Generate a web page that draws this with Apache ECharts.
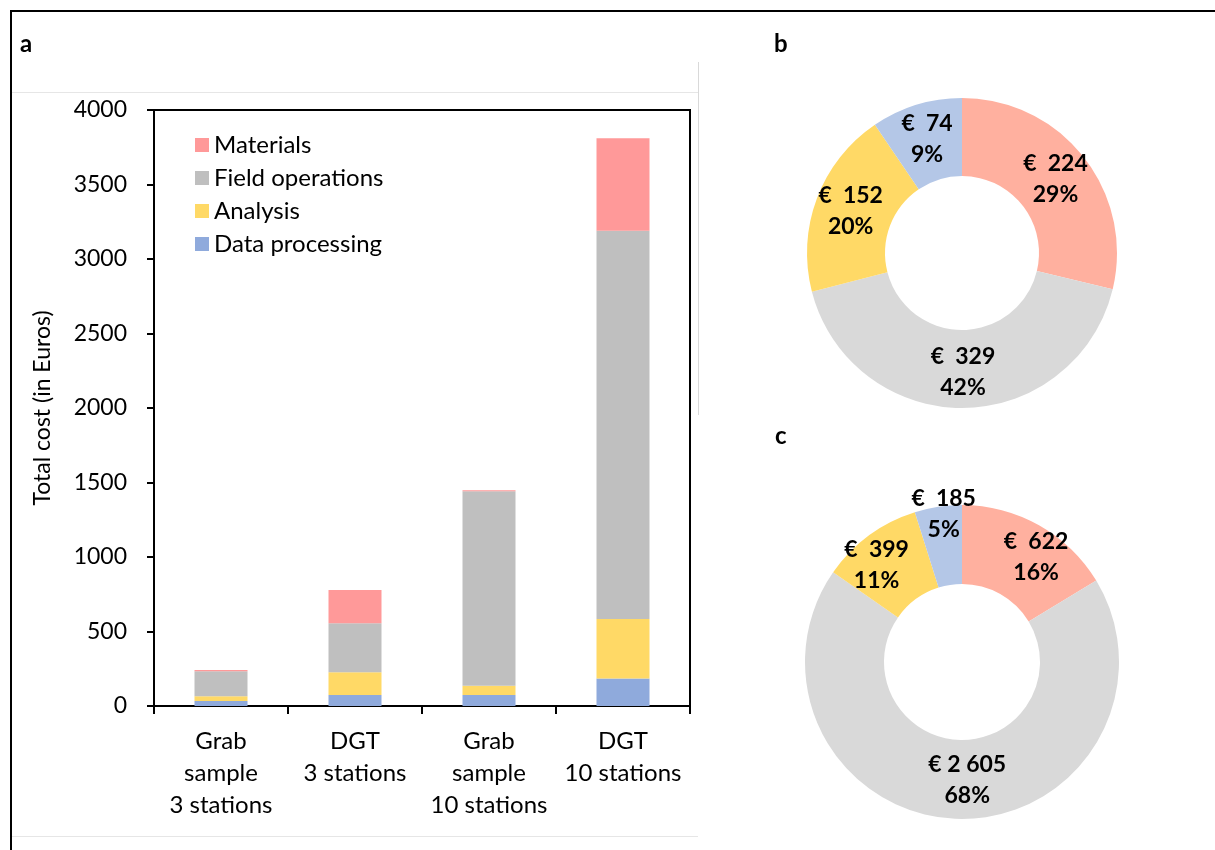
<!DOCTYPE html>
<html>
<head>
<meta charset="utf-8">
<script src="https://cdn.jsdelivr.net/npm/echarts@6/dist/echarts.min.js"></script>
<style>
html,body{margin:0;padding:0;background:#fff;}
#chart{width:1215px;height:850px;}
</style>
</head>
<body>
<div id="chart"></div>
<script>
// ---- data ----
const categories = ['Grab\nsample\n3 stations', 'DGT\n3 stations', 'Grab\nsample\n10 stations', 'DGT\n10 stations'];
const seriesNames = ['Materials', 'Field operations', 'Analysis', 'Data processing'];
const materials = [8, 224, 7, 622];
const fieldOperations = [168, 329, 1305, 2605];
const analysis = [32, 152, 62, 399];
const dataProcessing = [33, 74, 74, 185];
const yTicks = [0, 500, 1000, 1500, 2000, 2500, 3000, 3500, 4000];
const pieB = [224, 329, 152, 74];   // DGT 3 stations
const pieC = [622, 2605, 399, 185]; // DGT 10 stations

const barColors = {'Materials':'#FF9999','Field operations':'#BFBFBF','Analysis':'#FFD966','Data processing':'#8FAADC'};
const pieColors = ['#FFB09F', '#D9D9D9', '#FFD966', '#B4C7E7'];
const FONT = 'Lato, "Open Sans", sans-serif';

function euro(v){
  const s = String(v).replace(/\B(?=(\d{3})+(?!\d))/g, '\u00a0');
  return v >= 1000 ? '€\u00a0' + s : '€\u00a0\u00a0' + s;
}

function pieSeries(values, center, radius, offsets){
  return {
    type: 'pie',
    center: center,
    radius: radius,
    startAngle: 90,
    clockwise: true,
    percentPrecision: 0,
    silent: true,
    avoidLabelOverlap: false,
    itemStyle: {borderWidth: 0},
    label: {
      show: true,
      position: 'inside',
      color: '#000',
      fontFamily: FONT,
      fontWeight: 'bold',
      fontSize: 23,
      lineHeight: 31,
      formatter: p => euro(p.value) + '\n' + p.percent + '%'
    },
    labelLine: {show: false},
    data: values.map((v, i) => ({
      value: v,
      name: seriesNames[i],
      itemStyle: {color: pieColors[i]},
      label: offsets ? {offset: offsets[i]} : {}
    }))
  };
}

const stackOrder = [
  ['Data processing', dataProcessing],
  ['Analysis', analysis],
  ['Field operations', fieldOperations],
  ['Materials', materials]
];

const chart = echarts.init(document.getElementById('chart'), null, {renderer: 'canvas'});
chart.setOption({
  animation: false,
  backgroundColor: '#fff',
  textStyle: {fontFamily: FONT},
  grid: {
    left: 154, top: 110, right: 525, bottom: 144,
    show: true, borderColor: '#000', borderWidth: 2, containLabel: false
  },
  legend: {
    data: seriesNames,
    orient: 'vertical',
    left: 190, top: 128,
    itemWidth: 14, itemHeight: 14, itemGap: 9,
    icon: 'rect',
    textStyle: {fontFamily: FONT, fontSize: 24, color: '#000'},
    selectedMode: false
  },
  xAxis: {
    type: 'category',
    data: categories,
    axisLine: {lineStyle: {color: '#000', width: 2}},
    axisTick: {show: true, length: 8, lineStyle: {color: '#000', width: 2}},
    axisLabel: {color: '#000', fontSize: 24, lineHeight: 32, margin: 19, fontFamily: FONT, interval: 0}
  },
  yAxis: {
    type: 'value',
    min: yTicks[0], max: yTicks[yTicks.length - 1], interval: 500,
    name: 'Total cost (in Euros)',
    nameLocation: 'middle',
    nameRotate: 90,
    nameGap: 100,
    nameTextStyle: {color: '#000', fontSize: 23, fontFamily: FONT},
    axisLine: {show: true, lineStyle: {color: '#000', width: 2}},
    axisTick: {show: true, length: 7, lineStyle: {color: '#000', width: 2}},
    axisLabel: {color: '#000', fontSize: 23, margin: 27, fontFamily: FONT, formatter: v => String(v)},
    splitLine: {show: false}
  },
  series: stackOrder.map(([name, vals]) => ({
    name: name,
    type: 'bar',
    stack: 'total',
    barWidth: 53,
    data: vals,
    itemStyle: {color: barColors[name]},
    silent: true
  })).concat([
    pieSeries(pieB, [962, 253], [77, 155], null),
    pieSeries(pieC, [962, 662], [78, 157], [[15, 0], [9, -2], [-14, 0], [0, -29]])
  ]),
  graphic: [
    {type: 'line', shape: {x1: 10, y1: 11, x2: 1215, y2: 11}, style: {stroke: '#000', lineWidth: 2}, silent: true},
    {type: 'line', shape: {x1: 11, y1: 10, x2: 11, y2: 850}, style: {stroke: '#000', lineWidth: 2}, silent: true},
    {type: 'line', shape: {x1: 12, y1: 92.5, x2: 698, y2: 92.5}, style: {stroke: '#e6e6e6', lineWidth: 1}, silent: true},
    {type: 'line', shape: {x1: 698.5, y1: 62, x2: 698.5, y2: 415}, style: {stroke: '#d9d9d9', lineWidth: 1}, silent: true},
    {type: 'line', shape: {x1: 12, y1: 836.5, x2: 698, y2: 836.5}, style: {stroke: '#e6e6e6', lineWidth: 1}, silent: true},
    {type: 'text', left: 20, top: 32, style: {text: 'a', font: 'bold 24px ' + FONT, fill: '#000'}},
    {type: 'text', left: 774, top: 32, style: {text: 'b', font: 'bold 24px ' + FONT, fill: '#000'}},
    {type: 'text', left: 775, top: 424, style: {text: 'c', font: 'bold 24px ' + FONT, fill: '#000'}}
  ]
});
</script>
</body>
</html>
